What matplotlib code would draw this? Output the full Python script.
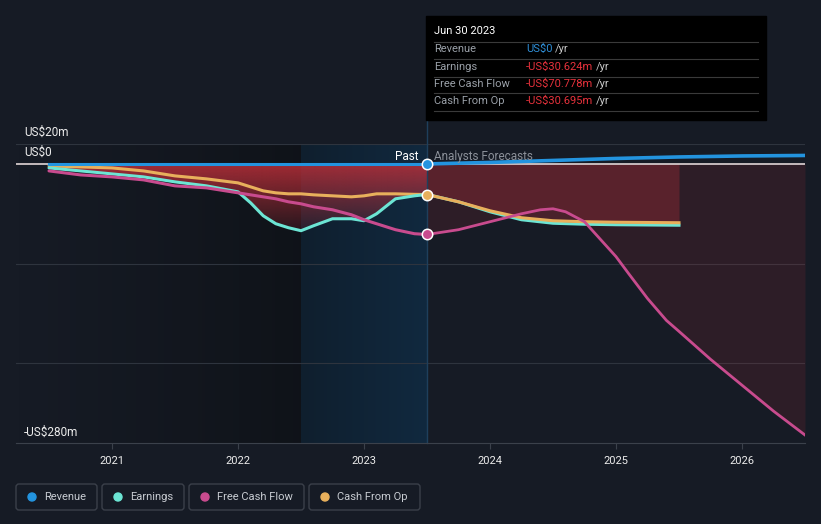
import numpy as np
import matplotlib
matplotlib.use("Agg")
import matplotlib.pyplot as plt
import matplotlib.colors as mcolors
import matplotlib.transforms as mtransforms
from matplotlib.patches import Rectangle, FancyBboxPatch, Circle
from matplotlib.lines import Line2D

plt.rcParams['font.family'] = ['Roboto', 'DejaVu Sans']

# ---- データ (単位: 百万US$) ----
past_years = [2020.5, 2020.75, 2021.0, 2021.25, 2021.5, 2021.75, 2022.0, 2022.1, 2022.2, 2022.3,
              2022.4, 2022.5, 2022.6, 2022.75, 2022.9, 2023.0, 2023.1, 2023.25, 2023.4, 2023.5]
revenue_past = [0, 0, 0, 0, 0, 0, 0, 0, 0, 0, 0, 0, 0, 0, 0, 0, 0, 0, 0, 0]
earnings_past = [-4, -7, -10, -13, -18, -22, -28, -39, -52, -60,
                 -64, -67, -62, -55, -55, -57, -50, -35, -32, -30.6]
fcf_past = [-7, -11, -13, -16, -22, -24, -29, -31, -33, -35,
            -38, -40, -43, -46, -51, -56, -60, -66, -70, -70.8]
cfo_past = [-2, -3, -4, -7, -12, -15, -19, -23, -27, -29,
            -30, -30, -31, -32, -33, -32, -30, -30, -30.5, -30.7]

rev_fc_years = [2023.5, 2024.0, 2024.5, 2025.0, 2025.5, 2026.0, 2026.5]
revenue_fc = [0, 1.5, 3.5, 5.5, 7, 8, 8.5]

earn_fc_years = [2023.5, 2023.75, 2024.0, 2024.25, 2024.5, 2024.75, 2025.0, 2025.5]
earnings_fc = [-30.6, -38, -48, -56, -59.5, -60.5, -61, -61.5]
cfo_fc = [-30.7, -38, -47, -54, -57, -58, -58.5, -59]

fcf_fc_years = [2023.5, 2023.75, 2024.0, 2024.25, 2024.4, 2024.5, 2024.6, 2024.75, 2024.9,
                2025.0, 2025.1, 2025.25, 2025.4, 2025.5, 2025.75, 2026.0, 2026.25, 2026.5]
fcf_fc = [-70.8, -66, -58, -50, -46, -45, -48, -58, -79,
          -93, -110, -135, -157, -168, -196, -222, -248, -272]

year_ticks = [2021, 2022, 2023, 2024, 2025, 2026]
y_labels = ['US$20m', 'US$0', '-US$280m']

legend_names = ['Revenue', 'Earnings', 'Free Cash Flow', 'Cash From Op']
tooltip_rows = [('Revenue', 'US$0'), ('Earnings', '-US$30.624m'),
                ('Free Cash Flow', '-US$70.778m'), ('Cash From Op', '-US$30.695m')]

# ---- スタイル ----
BG = '#161b25'
C_REV = '#2394df'
C_EARN = '#6ce5d4'
C_FCF = '#c84b8e'
C_CFO = '#e8b05c'
RED = '#c0303a'
colors = [C_REV, C_EARN, C_FCF, C_CFO]

W, H = 821, 524
fig = plt.figure(figsize=(W / 100, H / 100), dpi=100, facecolor=BG)
# ピクセル座標 (左上原点) 用の変換
pxt = mtransforms.Affine2D().scale(1, -1).translate(0, H).scale(1 / fig.dpi) + fig.dpi_scale_trans

X0, X1 = 2021 + (16 - 112) / 126, 2026.5
ax = fig.add_axes([16 / W, 1 - 443 / H, 789 / W, 299 / H])
ax.set_facecolor(BG)


def hgrad(ax, x0, x1, c0, c1, zorder):
    img = np.zeros((1, 100, 4))
    a = mcolors.to_rgba(c0)
    b = mcolors.to_rgba(c1)
    for k in range(4):
        img[0, :, k] = np.linspace(a[k], b[k], 100)
    ax.imshow(img, aspect='auto', extent=[x0, x1, -280, 20], zorder=zorder, interpolation='bilinear')


def vgrad_fill(ax, x, y, color, a_top, a_bot, ybot, zorder):
    poly = ax.fill_between(x, 0, y, color='none', lw=0)
    img = np.zeros((100, 1, 4))
    img[:, 0, :3] = mcolors.to_rgb(color)
    img[:, 0, 3] = np.linspace(a_top, a_bot, 100)
    im = ax.imshow(img, aspect='auto', extent=[min(x), max(x), ybot, 0], origin='upper',
                   zorder=zorder, interpolation='bilinear')
    im.set_clip_path(poly.get_paths()[0], transform=ax.transData)


# 背景の領域
hgrad(ax, X0, 2022.5, (0.05, 0.06, 0.08, 0.0), (0.04, 0.05, 0.06, 0.55), 0.2)
hgrad(ax, 2022.5, 2023.5, '#0f1f2e', '#11293f', 0.2)

for gy in [20, -100, -200]:
    ax.axhline(gy, color='#2e343e', lw=0.8, zorder=0.5)

# 塗りつぶし
vgrad_fill(ax, past_years, earnings_past, RED, 0.82, 0.05, -75, 1)
ax.fill_between(fcf_fc_years, 0, fcf_fc, color=RED, alpha=0.14, lw=0, zorder=1)
ax.fill_between(earn_fc_years, 0, earnings_fc, color=RED, alpha=0.30, lw=0, zorder=1.1)

ax.axhline(0, color='#f2e6e6', lw=1.1, zorder=2.5)
ax.axvline(2023.5, ymin=0, ymax=(443 - 120) / 299, clip_on=False, color='#1e3f5c', lw=1, zorder=2)

# 線
lw = 2.2
ax.plot(past_years, cfo_past, color=C_CFO, lw=lw, zorder=3, solid_capstyle='round')
ax.plot(past_years, earnings_past, color=C_EARN, lw=lw, zorder=3.1, solid_capstyle='round')
ax.plot(past_years, fcf_past, color=C_FCF, lw=lw, zorder=3.2, solid_capstyle='round')
ax.plot(past_years, revenue_past, color=C_REV, lw=lw, zorder=3.3)
ax.plot(earn_fc_years, earnings_fc, color=C_EARN, lw=lw, zorder=3)
ax.plot(earn_fc_years, cfo_fc, color=C_CFO, lw=lw, zorder=3.1)
ax.plot(fcf_fc_years, fcf_fc, color=C_FCF, lw=2.0, zorder=3.2)
ax.plot(rev_fc_years, revenue_fc, color=C_REV, lw=2.6, zorder=3.3)

for val, c in [(revenue_past[-1], C_REV), (cfo_past[-1], C_CFO), (fcf_past[-1], C_FCF)]:
    ax.plot(2023.5, val, 'o', ms=7.5, mfc=c, mec='white', mew=1.1, zorder=6, clip_on=False)

ax.text(2023.5 - 9 / 126, 7, 'Past', ha='right', va='center', color='white', fontsize=8.5, zorder=7)
ax.text(2023.5 + 7 / 126, 7, 'Analysts Forecasts', ha='left', va='center', color='#8b9099',
        fontsize=8.5, zorder=7)

ax.set_xlim(X0, X1)
ax.set_ylim(-280, 20)
for s in ['top', 'right', 'left']:
    ax.spines[s].set_visible(False)
ax.spines['bottom'].set_color('#3b414b')
ax.set_yticks([])
ax.set_xticks(year_ticks)
ax.set_xticklabels([str(y) for y in year_ticks])
ax.tick_params(axis='x', colors='#3b414b', labelcolor='#ececec', labelsize=8, length=4, pad=5)

# y軸ラベル
for lab, yy in zip(y_labels, [132, 152, 432]):
    fig.text(24, yy, lab, transform=pxt, color='#ececec', fontsize=8.5, va='center', ha='left')

# ツールチップ
fig.patches.append(Rectangle((426, 16), 340, 104, transform=pxt, color='#000000', zorder=10))
fig.text(434, 31, 'Jun 30 2023', transform=pxt, color='white', fontsize=8, va='center', zorder=11)
for sy in [42, 59, 77, 93, 111]:
    fig.add_artist(Line2D([434, 758], [sy, sy], transform=pxt, color='#3a3a3a', lw=0.8, zorder=11))
for i, (lab, val) in enumerate(tooltip_rows):
    yy = [49, 67, 84, 101][i]
    fig.text(434, yy, lab, transform=pxt, color='#9aa0a8', fontsize=8, va='center', zorder=11)
    vc = '#2f8fd8' if i == 0 else '#e8323c'
    fig.text(526, yy, val, transform=pxt, color=vc, fontsize=8, va='center', zorder=11)
    fig.text(555 if i == 0 else 596, yy, '/yr', transform=pxt, color='#c8c8c8', fontsize=8,
             va='center', zorder=11)

# 凡例
boxes = [(16, 97), (102, 184), (189, 304), (309, 420)]
for (bx0, bx1), name, c in zip(boxes, legend_names, colors):
    fig.patches.append(FancyBboxPatch((bx0, 484), bx1 - bx0, 26, boxstyle='round,pad=0,rounding_size=3',
                                      transform=pxt, fc=BG, ec='#3b404a', lw=1))
    fig.patches.append(Circle((bx0 + 16, 497), 4, transform=pxt, color=c))
    fig.text(bx0 + 28, 497, name, transform=pxt, color='#c8ccd2', fontsize=8, va='center')

fig.savefig('out.png', dpi=100, facecolor=BG)
